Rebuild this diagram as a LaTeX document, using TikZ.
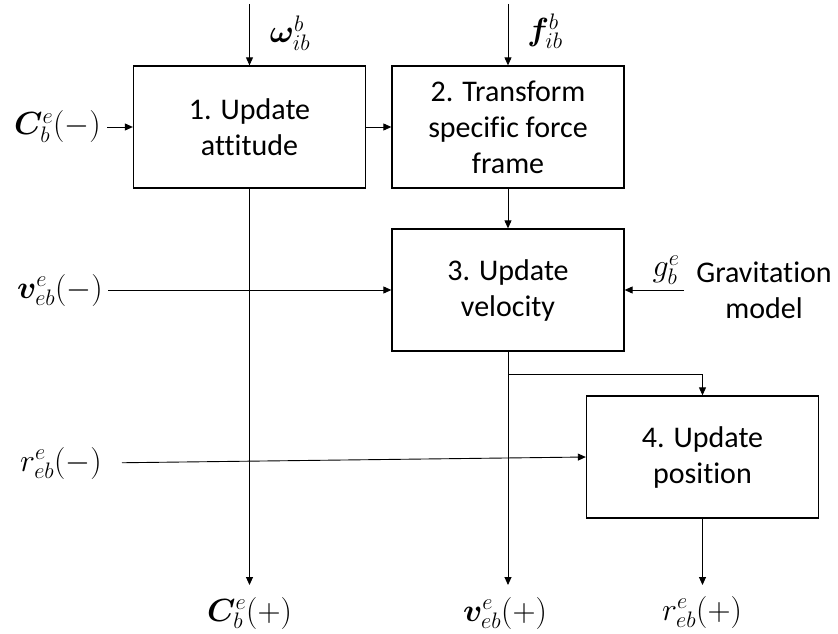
\RequirePackage{fix-cm}
\documentclass[tikz,border=0pt]{standalone}
\usepackage{amsmath,bm}
\usepackage{fontspec}
\setmainfont{Carlito}[Ligatures=CommonOff]
\usetikzlibrary{arrows.meta}
\begin{document}
\begin{tikzpicture}[x=1pt,y=-1pt,
  font=\fontsize{30}{36}\selectfont,
  block/.style={draw, line width=1.3pt, minimum width=232pt, minimum height=122pt,
                align=center, inner sep=0pt},
  flow/.style={-{Triangle[length=8pt,width=7pt]}, line width=0.9pt},
  lbl/.style={inner sep=0pt, font=\fontsize{32}{38}\selectfont}]
\useasboundingbox (0,0) rectangle (838,634);

% processing blocks
\node[block] (b1) at (249.5,127) {1. Update\\attitude};
\node[block] (b2) at (508,127) {2. Transform\\specific force\\frame};
\node[block] (b3) at (508,290) {3. Update\\velocity};
\node[block] (b4) at (702.5,457) {4. Update\\position};

% inputs from the top
\coordinate (wtop) at (249.5,4);
\coordinate (ftop) at (508,4);
\node[lbl] (w) at (290,33) {$\bm{\omega}_{ib}^{b}$};
\node[lbl] (f) at (545,31) {$\bm{f}_{ib}^{b}$};
\draw[flow] (wtop) -- (b1.north);
\draw[flow] (ftop) -- (b2.north);

% inputs from the left
\node[lbl, anchor=east] (cm) at (101,127) {$\bm{C}_b^{e}(-)$};
\node[lbl, anchor=east] (vm) at (103,290) {$\bm{v}_{eb}^{e}(-)$};
\node[lbl, anchor=east] (rm) at (102,463) {$r_{eb}^{e}(-)$};
\draw[flow, shorten <=6pt] (cm.east) -- (b1.west);
\draw[flow, shorten <=5pt] (vm.east) -- (b3.west);
\draw[flow, shorten <=20pt] (rm.east) -- (b4.west);

% gravitation model input
\node[lbl] (g) at (666,270) {$g_b^{e}$};
\node[inner sep=0pt, align=center] (grav) at (764,290) {Gravitation\\model};
\coordinate (gin) at (684,290);
\draw[flow] (gin) -- (b3.east);

% links between blocks
\draw[flow] (b1) -- (b2);
\draw[flow] (b2) -- (b3);
\coordinate (split) at (508,374);
\draw[flow] (split) -| (b4);

% outputs
\coordinate (c1) at (249.5,585);
\coordinate (c3) at (508,585);
\coordinate (c4) at (702.5,585);
\draw[flow] (b1) -- (c1);
\draw[flow] (b3) -- (c3);
\draw[flow] (b4) -- (c4);
\node[lbl] (cp) at (249.5,613) {$\bm{C}_b^{e}(+)$};
\node[lbl] (vp) at (505,613) {$\bm{v}_{eb}^{e}(+)$};
\node[lbl] (rp) at (702,612) {$r_{eb}^{e}(+)$};
\end{tikzpicture}
\end{document}
